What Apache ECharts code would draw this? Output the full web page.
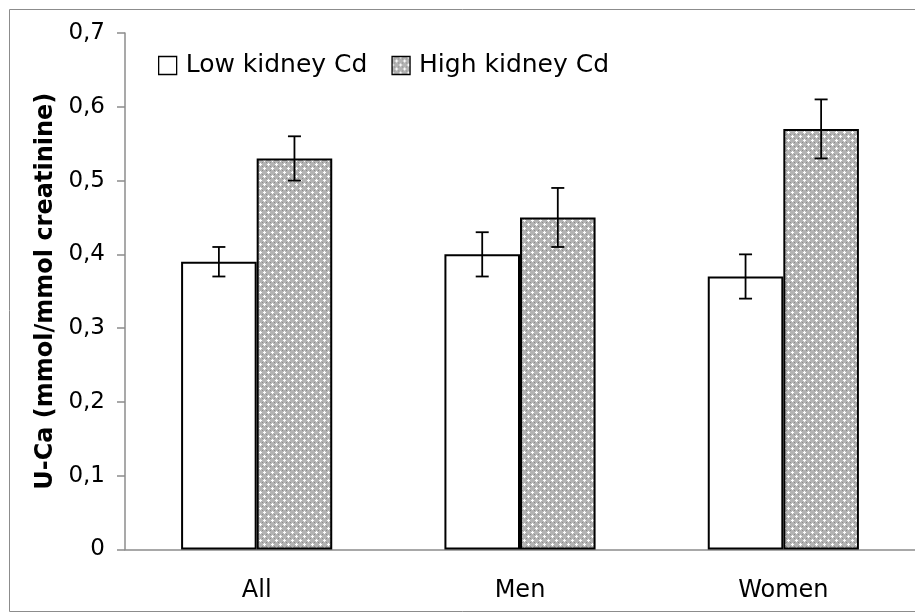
<!DOCTYPE html>
<html><head><meta charset="utf-8">
<script src="https://cdn.jsdelivr.net/npm/echarts@6/dist/echarts.min.js"></script>
<style>html,body{margin:0;padding:0;background:#fff}#c{width:915px;height:614px}</style>
</head><body><div id="c"></div>
<script>
const categories = ['All', 'Men', 'Women'];
const seriesNames = ['Low kidney Cd', 'High kidney Cd'];
const lowValues = [0.39, 0.40, 0.37];
const lowErrLow = [0.37, 0.37, 0.34];
const lowErrHigh = [0.41, 0.43, 0.40];
const highValues = [0.53, 0.45, 0.57];
const highErrLow = [0.50, 0.41, 0.53];
const highErrHigh = [0.56, 0.49, 0.61];
const yTicks = ['0', '0,1', '0,2', '0,3', '0,4', '0,5', '0,6', '0,7'];

// pattern tile
function makePattern() {
  const c = document.createElement('canvas');
  c.width = 8; c.height = 8;
  const ctx = c.getContext('2d');
  const img = ctx.createImageData(8, 8);
  for (let y = 0; y < 8; y++) for (let x = 0; x < 8; x++) {
    let v = 180;
    const pts = [[0,0],[4,4],[8,0],[0,8],[8,8]];
    let isW = false, isD = false;
    for (const [px, py] of pts) {
      const dx = Math.abs(x - px), dy = Math.abs(y - py);
      if ((dx === 0 && dy <= 1) || (dy === 0 && dx <= 1)) isW = true;
    }
    const dpts = [[2,2],[6,6],[2,6],[6,2]];
    for (const [px, py] of dpts) {
      if (x === px && y === py) isD = true;
    }
    if (isW) v = 255; else if (isD) v = 140;
    const i = (y * 8 + x) * 4;
    img.data[i] = v; img.data[i+1] = v; img.data[i+2] = v; img.data[i+3] = 255;
  }
  ctx.putImageData(img, 0, 0);
  return c;
}
const pattern = { image: makePattern(), repeat: 'repeat' };

const GAP = 0.426;
function errSeries(idx, lo, hi) {
  return {
    type: 'custom',
    silent: true,
    z: 10,
    data: categories.map((c, i) => [i, lo[i], hi[i]]),
    renderItem: function (params, api) {
      const catW = api.size([1, 0])[0];
      const barW = catW * (1 - GAP) / 2;
      const off = (idx === 0 ? -0.5 : 0.5) * barW;
      const pLo = api.coord([api.value(0), api.value(1)]);
      const pHi = api.coord([api.value(0), api.value(2)]);
      const x = pLo[0] + off;
      const cap = 6.5;
      const st = { stroke: '#000', lineWidth: 1.8 };
      return { type: 'group', children: [
        { type: 'line', shape: { x1: x, y1: pLo[1], x2: x, y2: pHi[1] }, style: st },
        { type: 'line', shape: { x1: x - cap, y1: pLo[1], x2: x + cap, y2: pLo[1] }, style: st },
        { type: 'line', shape: { x1: x - cap, y1: pHi[1], x2: x + cap, y2: pHi[1] }, style: st }
      ]};
    }
  };
}

const chart = echarts.init(document.getElementById('c'));
const font = '"DejaVu Sans", Lato, sans-serif';
chart.setOption({
  animation: false,
  backgroundColor: '#fff',
  textStyle: { fontFamily: font },
  graphic: [{
    type: 'rect', shape: { x: 9.5, y: 9.5, width: 920, height: 602 },
    style: { fill: null, stroke: '#8c8c8c', lineWidth: 1 }, silent: true, z: -1
  }],
  legend: {
    left: 153, top: 48, itemWidth: 18, itemHeight: 18, itemGap: 24,
    icon: 'rect',
    textStyle: { fontSize: 25, color: '#000', fontFamily: font, padding: [0, 0, 0, 4] },
    data: [
      { name: seriesNames[0], itemStyle: { color: '#fff', borderColor: '#000', borderWidth: 1.3 } },
      { name: seriesNames[1], itemStyle: { color: pattern, borderColor: '#000', borderWidth: 1.3 } }
    ]
  },
  grid: { left: 125, top: 33, width: 795, height: 516.5 },
  xAxis: {
    type: 'category', data: categories,
    axisLine: { lineStyle: { color: '#8c8c8c', width: 1.5 } },
    axisTick: { show: false },
    axisLabel: { fontSize: 24, color: '#000', margin: 29, fontFamily: font }
  },
  yAxis: {
    type: 'value', min: 0, max: 0.7, interval: 0.1,
    name: 'U-Ca (mmol/mmol creatinine)', nameLocation: 'middle', nameGap: 66,
    nameTextStyle: { fontSize: 24, fontWeight: 'bold', color: '#000', fontFamily: font },
    axisLine: { show: true, lineStyle: { color: '#8c8c8c', width: 1.5 } },
    axisTick: { show: true, length: 8, lineStyle: { color: '#8c8c8c', width: 1.5 } },
    splitLine: { show: false },
    axisLabel: {
      fontSize: 23, color: '#000', margin: 20, fontFamily: font,
      formatter: function (v) { return yTicks[Math.round(v * 10)]; }
    }
  },
  series: [
    {
      name: seriesNames[0], type: 'bar', data: lowValues, barGap: '0%', barCategoryGap: '42.6%',
      itemStyle: { color: '#fff', borderColor: '#000', borderWidth: 2 }
    },
    {
      name: seriesNames[1], type: 'bar', data: highValues, barGap: '0%', barCategoryGap: '42.6%',
      itemStyle: { color: pattern, borderColor: '#000', borderWidth: 2 }
    },
    errSeries(0, lowErrLow, lowErrHigh),
    errSeries(1, highErrLow, highErrHigh)
  ]
});
</script></body></html>
